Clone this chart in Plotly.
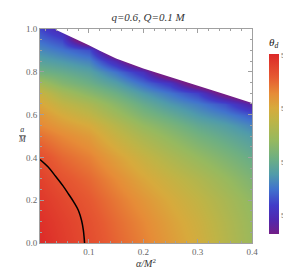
import plotly.graph_objects as go

# ---------------- data ----------------
ALPHA = [0.01, 0.05, 0.1, 0.15, 0.2, 0.25, 0.3, 0.35, 0.4]          # alpha / M^2
A_SPIN = [0.0, 0.1, 0.2, 0.3, 0.4, 0.5, 0.55, 0.6, 0.65, 0.7, 0.75,
          0.8, 0.85, 0.9, 0.95, 1.0]                                  # a / M
H = 52.0  # value used in the region that lies above the domain boundary (hidden)
THETA = [
    [56.00, 55.85, 55.70, 55.52, 55.35, 55.15, 54.95, 54.70, 54.45],
    [55.95, 55.82, 55.67, 55.48, 55.30, 55.10, 54.90, 54.66, 54.42],
    [55.88, 55.75, 55.60, 55.40, 55.20, 55.00, 54.80, 54.58, 54.35],
    [55.80, 55.65, 55.50, 55.28, 55.05, 54.85, 54.65, 54.43, 54.20],
    [55.68, 55.50, 55.35, 55.10, 54.85, 54.62, 54.40, 54.20, 54.00],
    [55.45, 55.30, 55.15, 54.85, 54.58, 54.35, 54.12, 53.95, 53.78],
    [55.30, 55.15, 55.00, 54.70, 54.40, 54.18, 53.95, 53.80, 53.60],
    [55.20, 55.00, 54.80, 54.50, 54.20, 53.98, 53.75, 53.58, 53.35],
    [55.05, 54.80, 54.60, 54.30, 54.00, 53.75, 53.55, 53.30, 52.80],
    [54.85, 54.55, 54.30, 54.05, 53.75, 53.50, 53.20, 52.45, H],
    [54.50, 54.25, 54.05, 53.80, 53.45, 53.10, 52.20, H, H],
    [54.10, 54.00, 53.85, 53.50, 53.05, H, H, H, H],
    [53.85, 53.75, 53.60, 52.95, H, H, H, H, H],
    [53.65, 53.50, 53.30, H, H, H, H, H, H],
    [53.45, 53.25, H, H, H, H, H, H, H],
    [53.25, 52.90, H, H, H, H, H, H, H],
]

# upper edge of the plotted domain
BOUND_ALPHA = [0.039, 0.06, 0.08, 0.1, 0.12, 0.15, 0.2, 0.25, 0.3, 0.35, 0.4]
BOUND_A = [0.996, 0.972, 0.948, 0.924, 0.898, 0.862, 0.815, 0.776, 0.736, 0.695, 0.654]

# black contour curve
CURVE_ALPHA = [0.01, 0.025, 0.0387, 0.052, 0.0627, 0.0725, 0.0807, 0.0865, 0.0897, 0.0912, 0.092]
CURVE_A = [0.39, 0.355, 0.312, 0.268, 0.228, 0.19, 0.152, 0.105, 0.061, 0.025, 0.0]

X_RANGE = [0.01, 0.4]
Y_RANGE = [0.0, 1.0]
Z_MIN, Z_MAX = 52.65, 56.02
CB_TICKS = [53, 54, 55, 56]

RAINBOW = [
    [0.00, "rgb(115,30,135)"],
    [0.08, "rgb(80,40,175)"],
    [0.16, "rgb(65,60,200)"],
    [0.25, "rgb(65,115,205)"],
    [0.33, "rgb(80,155,170)"],
    [0.42, "rgb(110,175,130)"],
    [0.52, "rgb(150,185,95)"],
    [0.63, "rgb(190,180,70)"],
    [0.70, "rgb(215,170,60)"],
    [0.78, "rgb(230,140,55)"],
    [0.87, "rgb(230,90,50)"],
    [1.00, "rgb(220,40,40)"],
]

FONT = "Liberation Serif"
GRAY = "#666666"

fig = go.Figure()

fig.add_trace(go.Heatmap(
    x=ALPHA, y=A_SPIN, z=THETA, zsmooth="best",
    zmin=Z_MIN, zmax=Z_MAX, colorscale=RAINBOW,
    colorbar=dict(
        thickness=10, len=180, lenmode="pixels",
        x=1.079, xanchor="left", xpad=0,
        y=0.881, yanchor="top", ypad=0,
        outlinewidth=0, ticks="", tickvals=CB_TICKS,
        tickfont=dict(family="Liberation Sans", size=7, color="#888888"),
    ),
    hoverinfo="skip",
))

# white mask above the domain boundary
fig.add_trace(go.Scatter(
    x=BOUND_ALPHA, y=[Y_RANGE[1]] * len(BOUND_ALPHA), mode="lines",
    line=dict(width=0, color="white"), showlegend=False, hoverinfo="skip"))
fig.add_trace(go.Scatter(
    x=BOUND_ALPHA, y=BOUND_A, mode="lines", fill="tonexty",
    fillcolor="white", line=dict(width=0, color="white"),
    showlegend=False, hoverinfo="skip"))

fig.add_trace(go.Scatter(
    x=CURVE_ALPHA, y=CURVE_A, mode="lines", line_shape="spline",
    line=dict(color="black", width=1.5), showlegend=False, hoverinfo="skip"))

axis_common = dict(
    showline=True, linecolor="#a0a0a0", linewidth=1, mirror="ticks",
    ticks="inside", ticklen=4, tickcolor="#a0a0a0", showgrid=False,
    zeroline=False, tickfont=dict(family=FONT, size=9, color=GRAY),
)

fig.update_layout(
    width=291, height=272,
    margin=dict(l=32, r=43, t=21, b=32),
    paper_bgcolor="white", plot_bgcolor="white",
    title=dict(text="<i>q=0.6, Q=0.1 M</i>", x=0.4811, xanchor="center",
               y=0.965, yanchor="middle",
               font=dict(family=FONT, size=11, color="#333333")),
    xaxis=dict(range=X_RANGE, dtick=0.1, tick0=0, tickformat=".1f",
               minor=dict(dtick=0.02, tick0=0, ticks="inside", ticklen=2, tickcolor="#a0a0a0"),
               title=dict(text="<i>α/M</i><sup>2</sup>", standoff=4,
                          font=dict(family=FONT, size=10, color="#333333")),
               **axis_common),
    yaxis=dict(range=Y_RANGE, dtick=0.2, tick0=0, tickformat=".1f",
               minor=dict(dtick=0.05, tick0=0, ticks="inside", ticklen=2, tickcolor="#a0a0a0"),
               **axis_common),
    annotations=[
        dict(text="<i>a</i><br><span style='text-decoration:overline'><i>M</i></span>",
             xref="paper", yref="paper", x=-0.113, y=0.505, showarrow=False,
             font=dict(family=FONT, size=8, color="#333333")),
        dict(text="<i>θ<sub>d</sub></i>", xref="paper", yref="paper",
             x=1.103, y=0.934, xanchor="center", yanchor="middle", showarrow=False,
             font=dict(family=FONT, size=11, color="#222222")),
    ],
)

fig.write_html("out.html")
